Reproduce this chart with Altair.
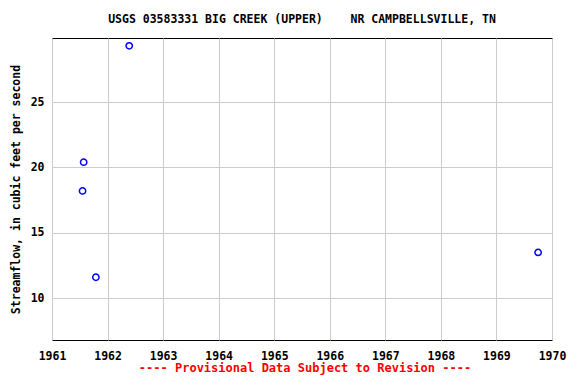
import altair as alt
import pandas as pd

years = [1961.55, 1961.57, 1961.79, 1962.39, 1969.75]
flows = [18.2, 20.4, 11.6, 29.3, 13.5]
x_ticks = [1961, 1962, 1963, 1964, 1965, 1966, 1967, 1968, 1969, 1970]
y_ticks = [10, 15, 20, 25]
title_text = "USGS 03583331 BIG CREEK (UPPER)\u00a0\u00a0\u00a0\u00a0NR CAMPBELLSVILLE, TN"
y_title = "Streamflow, in cubic feet per second"
note_text = "---- Provisional Data Subject to Revision ----"

df = pd.DataFrame({"year": years, "flow": flows})
FONT = "DejaVu Sans Mono"
W, H = 500, 302

points = alt.Chart(df).mark_point(
    shape="circle", filled=False, color="#0000ff", size=40, strokeWidth=1.5, opacity=1
).encode(
    x=alt.X("year:Q", scale=alt.Scale(domain=[1961, 1970], nice=False, zero=False),
            axis=alt.Axis(values=x_ticks, format="d", title=None, ticks=False,
                          labelPadding=10, labelFont=FONT, labelFontWeight="bold",
                          labelFontSize=11.5, labelColor="black", grid=True,
                          gridColor="#cccccc", domain=False, labelFlush=False)),
    y=alt.Y("flow:Q", scale=alt.Scale(domain=[6.8, 29.9], nice=False, zero=False),
            axis=alt.Axis(values=y_ticks, title=y_title, ticks=False,
                          labelPadding=8, labelFont=FONT, labelFontWeight="bold",
                          labelFontSize=11.5, labelColor="black", grid=True,
                          gridColor="#cccccc", domain=False,
                          titleFont=FONT, titleFontWeight="bold", titleFontSize=11.5,
                          titleColor="black", titlePadding=9)),
)

note = alt.Chart(pd.DataFrame({"t": [note_text]})).mark_text(
    font=FONT, fontWeight="bold", fontSize=12, color="red", align="center", baseline="bottom"
).encode(x=alt.value(W / 2 + 3), y=alt.value(H + 35), text="t:N")

chart = alt.layer(points, note).properties(
    width=W, height=H,
    title=alt.TitleParams(title_text, font=FONT, fontWeight="bold", fontSize=11.5,
                          color="black", anchor="middle", offset=13),
    padding={"left": 44, "top": 30, "right": 16, "bottom": 36},
    autosize=alt.AutoSizeParams(type="none"),
).configure_view(stroke="black", strokeWidth=1)

chart.save("out.html", embed_options={"renderer": "svg", "actions": False})
